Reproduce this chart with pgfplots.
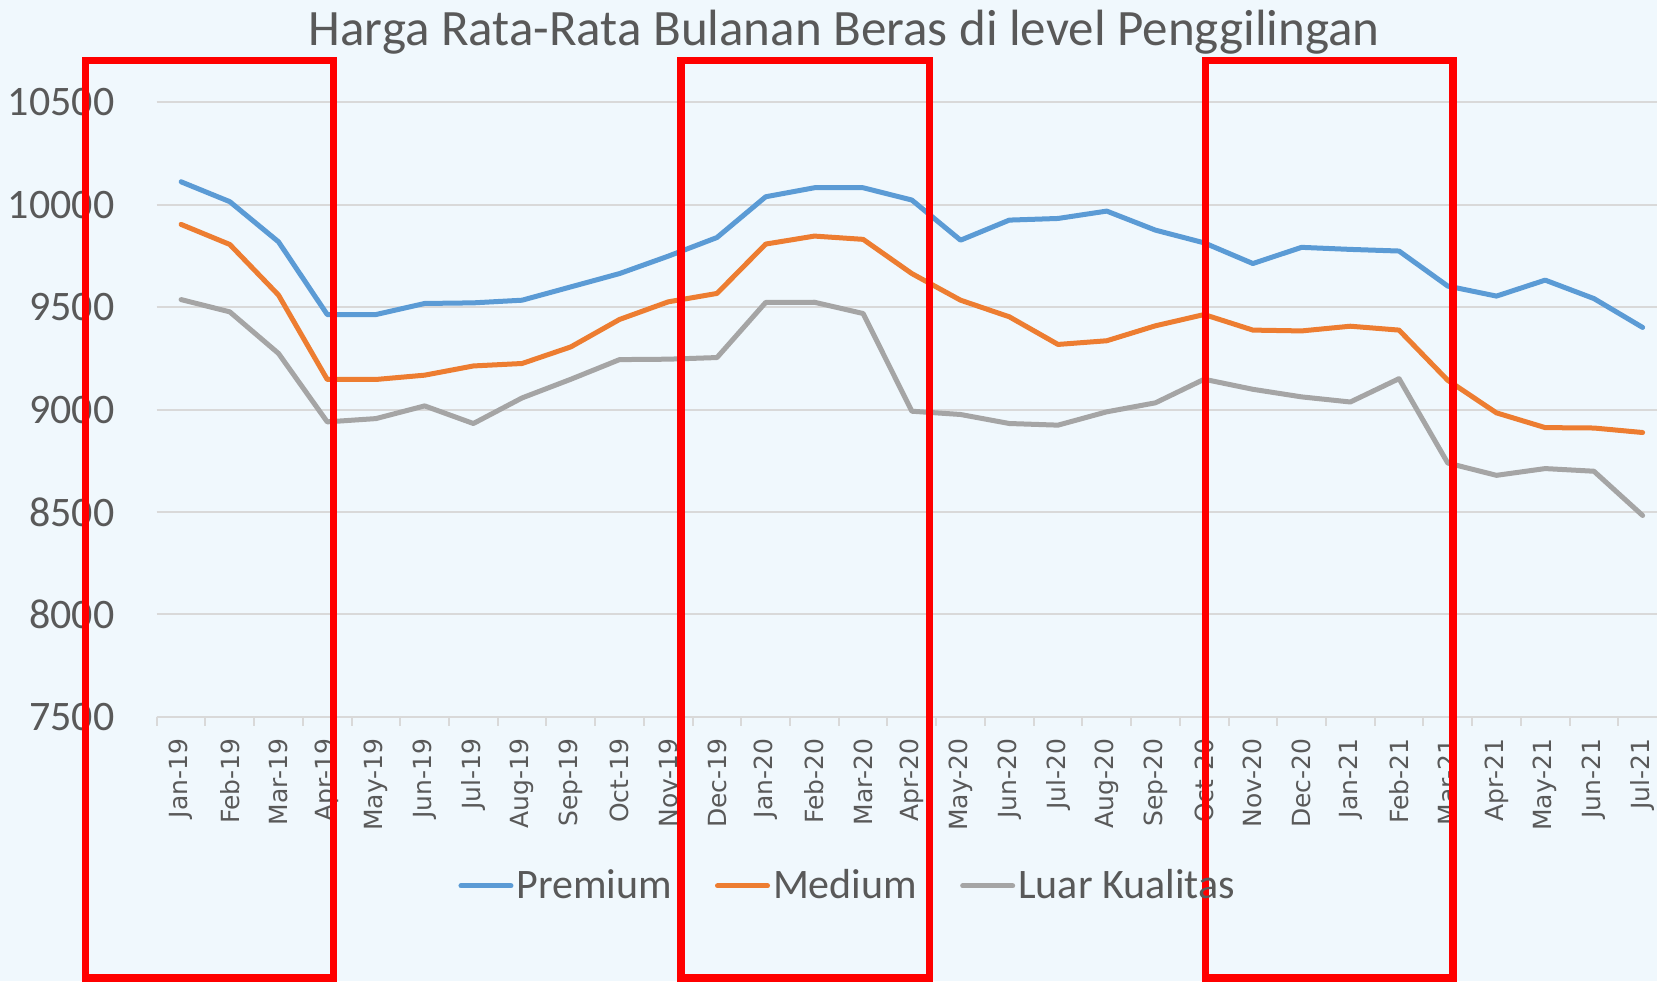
\documentclass[border=0pt]{standalone}
\usepackage{fontspec}
\setmainfont{Carlito}
\newfontfamily\dejavu{DejaVu Sans}
\usepackage{pgfplots}
\pgfplotsset{compat=1.18}
\definecolor{bg}{HTML}{F0F8FD}
\definecolor{txt}{HTML}{595959}
\definecolor{grd}{HTML}{D9D9D9}
\definecolor{cP}{HTML}{5B9BD5}
\definecolor{cM}{HTML}{ED7D31}
\definecolor{cL}{HTML}{A5A5A5}
\begin{document}
\begin{tikzpicture}
\fill[bg] (-78.35pt,-132.15pt) rectangle (750pt,358.35pt);
\begin{axis}[
  at={(0,0)}, anchor=south west, scale only axis,
  width=750pt, height=307.2pt,
  xmin=-0.5, xmax=30.295, ymin=7500, ymax=10500,
  clip=false,
  scaled y ticks=false,
  ytick={7500,8000,...,10500},
  xtick={0,...,30},
  xticklabels={Jan-19,Feb-19,Mar-19,Apr-19,May-19,Jun-19,Jul-19,Aug-19,Sep-19,Oct-19,Nov-19,Dec-19,Jan-20,Feb-20,Mar-20,Apr-20,May-20,Jun-20,Jul-20,Aug-20,Sep-20,Oct-20,Nov-20,Dec-20,Jan-21,Feb-21,Mar-21,Apr-21,May-21,Jun-21,Jul-21},
  axis x line*=bottom, axis y line*=left,
  y axis line style={draw=none},
  x axis line style={-, draw=grd, line width=1pt},
  ymajorgrids, major grid style={grd, line width=1pt},
  major tick length=0pt,
  extra x ticks={-0.5,0.5,...,29.5},
  extra x tick labels={},
  extra x tick style={grid=none, major tick length=4.5pt, tick align=outside, tick style={grd, line width=1pt}},
  yticklabel style={font=\fontsize{21}{21}\selectfont, text=txt, inner sep=0pt,
     /pgf/number format/1000 sep={}, /pgf/number format/assume math mode=true},
  yticklabel shift=21pt,
  xticklabel style={font=\dejavu\fontsize{12.5}{12.5}\selectfont, text=txt, rotate=90, anchor=east, inner sep=0pt},
  xticklabel shift=10.7pt,
  legend columns=3,
  legend style={at={(0.4609,-0.2751)}, anchor=center, draw=none, fill=none,
     font=\fontsize{21}{21}\selectfont, text=txt,
     nodes={inner sep=1.5pt},
     /tikz/every even column/.append style={column sep=20pt}},
  legend image code/.code={\draw[#1, line width=2.5pt, line cap=round] (0pt,0pt) -- (25pt,0pt);},
]
\addplot[cP, line width=2.5pt, line join=round, line cap=round] coordinates {
(0,10112)(1,10015)(2,9819)(3,9464)(4,9464)(5,9518)(6,9521)(7,9534)(8,9599)(9,9664)(10,9749)(11,9840)
(12,10039)(13,10083)(14,10083)(15,10023)(16,9827)(17,9925)(18,9933)(19,9969)(20,9876)(21,9814)(22,9713)(23,9792)
(24,9782)(25,9774)(26,9603)(27,9554)(28,9632)(29,9542)(30,9401)};
\addlegendentry{Premium}
\addplot[cM, line width=2.5pt, line join=round, line cap=round] coordinates {
(0,9904)(1,9806)(2,9559)(3,9147)(4,9147)(5,9168)(6,9213)(7,9225)(8,9306)(9,9440)(10,9526)(11,9567)
(12,9808)(13,9847)(14,9831)(15,9664)(16,9534)(17,9453)(18,9318)(19,9336)(20,9409)(21,9464)(22,9388)(23,9384)
(24,9407)(25,9388)(26,9143)(27,8984)(28,8912)(29,8910)(30,8888)};
\addlegendentry{Medium}
\addplot[cL, line width=2.5pt, line join=round, line cap=round] coordinates {
(0,9537)(1,9477)(2,9274)(3,8940)(4,8956)(5,9018)(6,8932)(7,9057)(8,9148)(9,9244)(10,9246)(11,9254)
(12,9523)(13,9524)(14,9469)(15,8992)(16,8976)(17,8932)(18,8924)(19,8989)(20,9033)(21,9148)(22,9099)(23,9062)
(24,9037)(25,9151)(26,8739)(27,8679)(28,8712)(29,8699)(30,8483)};
\addlegendentry{Luar Kualitas}
\draw[red, line width=3.85pt] (axis cs:-1.961,6225) rectangle (axis cs:3.129,10704);
\draw[red, line width=3.85pt] (axis cs:10.266,6225) rectangle (axis cs:15.362,10704);
\draw[red, line width=3.85pt] (axis cs:21.027,6225) rectangle (axis cs:26.113,10704);
\node[anchor=base, font=\fontsize{25.5}{25.5}\selectfont, text=txt, yshift=28.65pt] at (rel axis cs:0.4582,1) {Harga Rata-Rata Bulanan Beras di level Penggilingan};
\end{axis}
\pgfresetboundingbox
\path[use as bounding box] (-78.35pt,-132.15pt) rectangle (750pt,358.35pt);
\end{tikzpicture}
\end{document}
